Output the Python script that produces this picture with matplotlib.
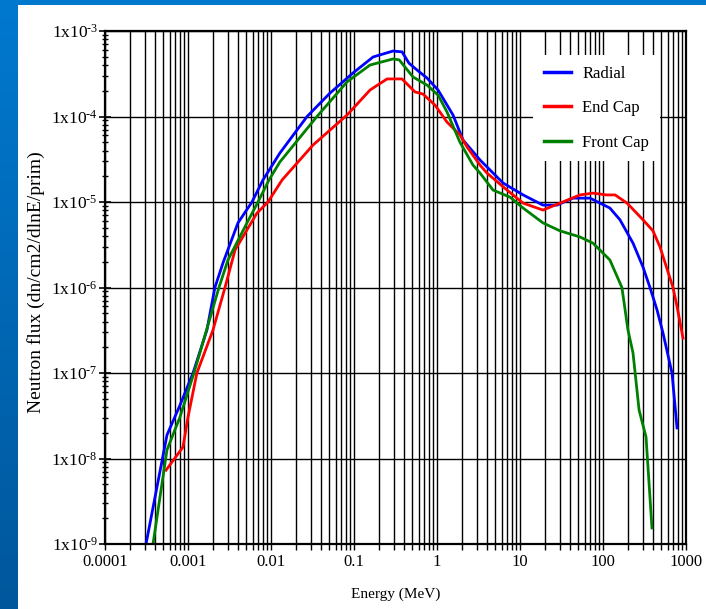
import numpy as np
import matplotlib
matplotlib.use("Agg")
import matplotlib.pyplot as plt
from matplotlib.colors import LinearSegmentedColormap
from matplotlib.patches import Rectangle
from matplotlib.ticker import LogLocator, FixedLocator, NullFormatter

plt.rcParams['font.family'] = ['Liberation Serif', 'DejaVu Serif']
plt.rcParams['mathtext.fontset'] = 'custom'
plt.rcParams['mathtext.rm'] = 'Liberation Serif'
plt.rcParams['mathtext.it'] = 'Liberation Serif:italic'

# ---- data ----
radial_E = [3.12e-4, 5.58e-4, 8.0e-4, 1.15e-3, 1.69e-3, 2.11e-3, 2.64e-3, 4.0e-3, 5.9e-3, 8.0e-3,
            0.0128, 0.0272, 0.0514, 0.0973, 0.17, 0.295, 0.379, 0.46, 0.574, 0.758, 1.03, 1.56,
            2.06, 3.3, 6.24, 10.9, 18.9, 27.9, 43.5, 69.7, 121, 160, 230, 303, 368, 448, 528, 678, 780]
radial_F = [1e-9, 1.88e-8, 4.2e-8, 1e-7, 3.18e-7, 1e-6, 1.94e-6, 5.7e-6, 1e-5, 1.81e-5,
            3.74e-5, 1e-4, 1.88e-4, 3.23e-4, 4.97e-4, 5.83e-4, 5.7e-4, 4.2e-4, 3.5e-4, 2.82e-4, 2.04e-4, 1.04e-4,
            5.3e-5, 3.1e-5, 1.67e-5, 1.21e-5, 9.2e-6, 9.2e-6, 1.11e-5, 1.11e-5, 8.5e-6, 6.2e-6, 3.3e-6, 1.74e-6,
            1e-6, 5.46e-7, 2.94e-7, 1e-7, 2.28e-8]

endcap_E = [5.43e-4, 8.7e-4, 1.0e-3, 1.28e-3, 2.0e-3, 2.79e-3, 3.69e-3, 6.78e-3, 9.2e-3, 0.0136,
            0.0321, 0.0824, 0.156, 0.25, 0.379, 0.543, 0.678, 0.946, 1.32, 1.89, 2.3, 3.3, 4.0, 6.97,
            10.9, 18.9, 30.3, 52.8, 75.8, 110, 140, 195, 303, 400, 486, 697, 780, 920]
endcap_F = [7.3e-9, 1.36e-8, 3.05e-8, 1e-7, 3.18e-7, 1e-6, 2.75e-6, 7.43e-6, 1e-5, 1.81e-5,
            4.64e-5, 1.04e-4, 2.04e-4, 2.75e-4, 2.75e-4, 1.94e-4, 1.83e-4, 1.36e-4, 8.6e-5, 6.1e-5, 4.4e-5,
            2.7e-5, 2.18e-5, 1.38e-5, 9.7e-6, 8.05e-6, 9.7e-6, 1.21e-5, 1.27e-5, 1.21e-5, 1.21e-5, 9.7e-6,
            6.2e-6, 4.6e-6, 2.98e-6, 1e-6, 6.0e-7, 2.56e-7]

front_E = [3.79e-4, 5.58e-4, 8.0e-4, 1.18e-3, 2.36e-3, 3.03e-3, 5.14e-3, 6.97e-3, 9.46e-3, 0.0128,
           0.0358, 0.0824, 0.156, 0.295, 0.35, 0.514, 0.758, 1.03, 1.32, 1.89, 2.71, 3.3, 4.73, 7.58,
           10.9, 18.9, 30.3, 52.8, 75.8, 121, 169, 200, 230, 272, 330, 389]
front_F = [1e-9, 1.26e-8, 3.05e-8, 1e-7, 1e-6, 2.1e-6, 5.7e-6, 1e-5, 1.81e-5, 2.94e-5,
           1e-4, 2.54e-4, 4.0e-4, 4.71e-4, 4.6e-4, 2.9e-4, 2.33e-4, 1.78e-4, 1.13e-4, 5.0e-5, 2.71e-5,
           2.18e-5, 1.38e-5, 1.14e-5, 8.5e-6, 5.7e-6, 4.6e-6, 3.9e-6, 3.3e-6, 2.1e-6, 1e-6, 3.18e-7,
           1.71e-7, 3.69e-8, 1.78e-8, 1.54e-9]

series_names = ["Radial", "End Cap", "Front Cap"]
series_colors = ["#0000FF", "#FF0000", "#008000"]

x_ticks = [1e-4, 1e-3, 1e-2, 1e-1, 1, 10, 100, 1000]
x_ticklabels = ["0.0001", "0.001", "0.01", "0.1", "1", "10", "100", "1000"]
y_ticks = [1e-9, 1e-8, 1e-7, 1e-6, 1e-5, 1e-4, 1e-3]
y_ticklabels = ["1x10$^{\u20109}$", "1x10$^{\u20108}$", "1x10$^{\u20107}$", "1x10$^{\u20106}$",
                "1x10$^{\u20105}$", "1x10$^{\u20104}$", "1x10$^{\u20103}$"]

W, H = 706, 609
fig = plt.figure(figsize=(W / 100, H / 100), dpi=100)

# background: blue gradient frame + white panel
bg = fig.add_axes([0, 0, 1, 1], zorder=-10)
bg.axis('off')
grad = np.linspace(0, 1, 256).reshape(-1, 1)
cmap = LinearSegmentedColormap.from_list('bg', ['#0079CF', '#00579C'])
bg.imshow(grad, aspect='auto', cmap=cmap, extent=[0, 1, 0, 1], origin='upper')
bg.add_patch(Rectangle((18 / W, 0), 1 - 18 / W, 1 - 5 / H, transform=bg.transAxes,
                       facecolor='white', edgecolor='none'))
bg.set_xlim(0, 1); bg.set_ylim(0, 1)

left, right, top, bottom = 105, 686, 31, 544
ax = fig.add_axes([left / W, 1 - bottom / H, (right - left) / W, (bottom - top) / H])

for E, F, name, c in zip([radial_E, endcap_E, front_E], [radial_F, endcap_F, front_F],
                         series_names, series_colors):
    ax.plot(E, F, color=c, lw=2.0, label=name)

ax.set_xscale('log')
ax.set_yscale('log')
ax.set_xlim(1e-4, 1e3)
ax.set_ylim(1e-9, 1e-3)

ax.xaxis.set_major_locator(FixedLocator(x_ticks))
ax.set_xticklabels(x_ticklabels, fontsize=12)
ax.xaxis.set_minor_locator(LogLocator(base=10, subs=np.arange(2, 10), numticks=20))
ax.xaxis.set_minor_formatter(NullFormatter())
ax.yaxis.set_major_locator(FixedLocator(y_ticks))
ax.set_yticklabels(y_ticklabels, fontsize=12.5)
ax.yaxis.set_minor_locator(LogLocator(base=10, subs=np.arange(2, 10), numticks=20))
ax.yaxis.set_minor_formatter(NullFormatter())

ax.grid(True, which='major', axis='both', color='black', lw=1.0)
ax.grid(True, which='minor', axis='x', color='black', lw=1.0)

ax.tick_params(axis='x', which='both', direction='out', length=4, width=1, pad=3)
ax.tick_params(axis='y', which='major', direction='inout', length=8, width=1.2, pad=1)
ax.tick_params(axis='y', which='minor', direction='inout', length=4, width=1)
for s in ax.spines.values():
    s.set_linewidth(1.6)

ax.set_xlabel("Energy (MeV)", fontsize=11)
ax.xaxis.set_label_coords(0.5, -0.085)
ax.set_ylabel("Neutron flux (dn/cm2/dlnE/prim)", fontsize=14)
ax.yaxis.set_label_coords(-0.103, 0.51)

leg = ax.legend(loc='upper left', bbox_to_anchor=(0.737, 0.953), fontsize=12,
                frameon=True, fancybox=False, framealpha=1, facecolor='white', edgecolor='none',
                borderaxespad=0, borderpad=0.65, handlelength=1.6, handletextpad=0.7,
                labelspacing=1.1)
leg.set_zorder(5)
for line in leg.get_lines():
    line.set_linewidth(2.5)

fig.savefig("out.png", dpi=100)
